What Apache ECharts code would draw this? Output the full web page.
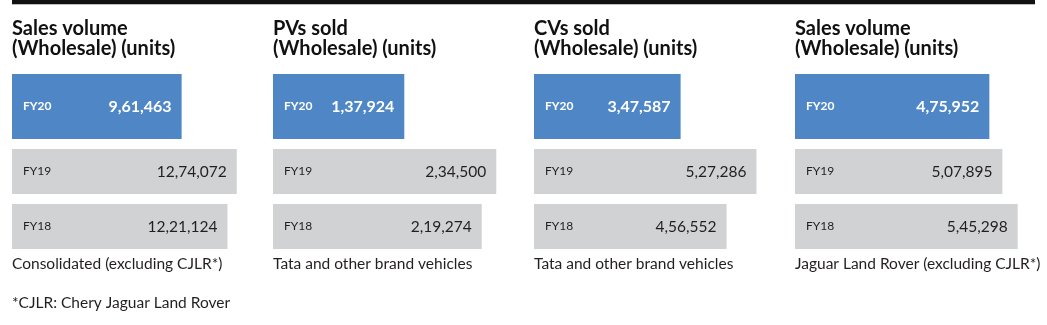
<!DOCTYPE html>
<html>
<head>
<meta charset="utf-8">
<script src="https://cdn.jsdelivr.net/npm/echarts@6/dist/echarts.min.js"></script>
<style>
  html, body { margin: 0; padding: 0; background: #ffffff; }
  #chart { width: 1047px; height: 325px; }
</style>
</head>
<body>
<div id="chart"></div>
<script>
// Fiscal years shown in each panel
const currentYear = ['FY20'];
const priorYears = ['FY19', 'FY18'];

// Panel headings and footers
const panelTitles = [
  'Sales volume\n(Wholesale) (units)',
  'PVs sold\n(Wholesale) (units)',
  'CVs sold\n(Wholesale) (units)',
  'Sales volume\n(Wholesale) (units)'
];
const panelNotes = [
  'Consolidated (excluding CJLR*)',
  'Tata and other brand vehicles',
  'Tata and other brand vehicles',
  'Jaguar Land Rover (excluding CJLR*)'
];
const footnote = '*CJLR: Chery Jaguar Land Rover';

// Wholesale units, one array per panel, ordered FY20, FY19, FY18
const consolidatedUnits = [961463, 1274072, 1221124];
const pvUnits = [137924, 234500, 219274];
const cvUnits = [347587, 527286, 456552];
const jlrUnits = [475952, 507895, 545298];

const panels = [consolidatedUnits, pvUnits, cvUnits, jlrUnits];

// Layout of each panel: left edge, value-axis length and maximum
const panelLeft = [12, 273, 534, 795];
const axisWidth = [247, 238, 232, 245];
const axisMax = [1400000, 250000, 550000, 600000];

const FONT = 'Lato, "Noto Sans", sans-serif';
const BLUE = '#4f87c6';
const GREY = '#d1d2d4';
const INK = '#231f20';

// Indian digit grouping: 12,74,072
function indianFormat(n) {
  const s = String(Math.round(n));
  if (s.length <= 3) return s;
  const last3 = s.slice(-3);
  let rest = s.slice(0, -3);
  const parts = [];
  while (rest.length > 2) {
    parts.unshift(rest.slice(-2));
    rest = rest.slice(0, -2);
  }
  if (rest.length) parts.unshift(rest);
  return parts.join(',') + ',' + last3;
}

const grids = [], xAxes = [], yAxes = [], series = [], titles = [];

panels.forEach((vals, p) => {
  const left = panelLeft[p];
  // Top grid: current year (taller bar)
  grids.push({ left: left, top: 74, width: axisWidth[p], height: 65 });
  // Bottom grid: prior years
  grids.push({ left: left, top: 144, width: axisWidth[p], height: 110 });

  for (let g = 0; g < 2; g++) {
    const idx = p * 2 + g;
    xAxes.push({
      gridIndex: idx, type: 'value', min: 0, max: axisMax[p],
      show: false
    });
    const top = g === 0;
    yAxes.push({
      gridIndex: idx, type: 'category', inverse: true,
      data: top ? currentYear : priorYears,
      z: 10,
      axisLine: { show: false }, axisTick: { show: false },
      splitLine: { show: false },
      axisLabel: {
        inside: true, margin: 11,
        color: top ? '#ffffff' : INK,
        fontWeight: top ? 'bold' : 'normal',
        fontSize: 12, fontFamily: FONT
      }
    });
    series.push({
      type: 'bar',
      xAxisIndex: idx, yAxisIndex: idx,
      data: top ? vals.slice(0, 1) : vals.slice(1),
      barWidth: top ? 65 : 45,
      itemStyle: { color: top ? BLUE : GREY },
      silent: true,
      label: {
        show: true, position: 'insideRight', distance: 10,
        formatter: (d) => indianFormat(d.value),
        color: top ? '#ffffff' : INK,
        fontWeight: top ? 'bold' : 'normal',
        fontSize: top ? 16 : 15.5, fontFamily: FONT
      }
    });
  }

  titles.push({
    text: panelTitles[p], left: left, top: 19,
    textStyle: { fontSize: 20, fontWeight: 'bold', lineHeight: 20, color: '#111111', fontFamily: FONT }
  });
  titles.push({
    text: panelNotes[p], left: left, top: 256,
    textStyle: { fontSize: 15.5, fontWeight: 'normal', color: INK, fontFamily: FONT }
  });
});

titles.push({
  text: footnote, left: 12, top: 295,
  textStyle: { fontSize: 15.5, fontWeight: 'normal', color: INK, fontFamily: FONT }
});

const chart = echarts.init(document.getElementById('chart'), null, { renderer: 'canvas' });
chart.setOption({
  animation: false,
  backgroundColor: '#ffffff',
  title: titles.map(t => Object.assign({ padding: 0 }, t)),
  grid: grids,
  xAxis: xAxes,
  yAxis: yAxes,
  series: series,
  graphic: [
    { type: 'rect', shape: { x: 12, y: 0, width: 1023, height: 4 }, style: { fill: '#111111' } },
    { type: 'rect', shape: { x: 12, y: 4, width: 1023, height: 1 }, style: { fill: '#bdbdbd' } }
  ]
});
</script>
</body>
</html>
